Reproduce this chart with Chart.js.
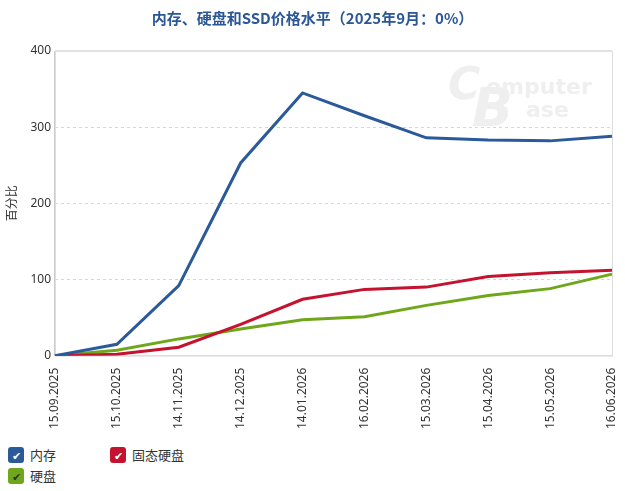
<!DOCTYPE html>
<html>
<head>
<meta charset="utf-8">
<script src="https://cdn.jsdelivr.net/npm/chart.js@4"></script>
<style>
  body { margin: 0; background: #fff; font-family: "Noto Sans CJK SC", "Noto Sans", sans-serif; }
  #wrap { position: relative; width: 625px; height: 436px; }
  #legend { position: relative; height: 55px; }
  .item { position: absolute; display: flex; align-items: center; font-size: 13px; color: #333; }
  .box { width: 16px; height: 16px; border-radius: 3px; margin-right: 6px; color: #fff; font-size: 11px; line-height: 16px; text-align: center; }
</style>
</head>
<body>
<div id="wrap"><canvas id="chart"></canvas></div>
<div id="legend"></div>
<script>
// categories (dates)
const dates = ['15.09.2025', '15.10.2025', '14.11.2025', '14.12.2025', '14.01.2026',
  '16.02.2026', '15.03.2026', '15.04.2026', '15.05.2026', '16.06.2026'];

// series values (price level in %, Sept 2025 = 0)
const ram = [0, 15, 92, 253, 345, 315, 286, 283, 282, 288];
const ssd = [0, 2, 11, 41, 74, 87, 90, 104, 109, 112];
const hdd = [0, 7, 22, 35, 47, 51, 66, 79, 88, 107];

const yTicks = [0, 100, 200, 300, 400];

const names = ['内存', '固态硬盘', '硬盘'];
const colors = ['#2b5a9b', '#c5122f', '#6fa71a'];

// cadre du graphique + filigrane
const frame = {
  id: 'frame',
  beforeDatasetsDraw(chart) {
    const a = chart.chartArea, c = chart.ctx;
    c.save();
    c.fillStyle = '#efefef';
    c.font = 'italic bold 44px "DejaVu Sans"';
    c.fillText('C', a.right - 164, a.top + 48);
    c.font = 'italic bold 54px "DejaVu Sans"';
    c.fillText('B', a.right - 140, a.top + 75);
    c.font = 'bold 22px "DejaVu Sans"';
    c.fillText('omputer', a.right - 126, a.top + 43);
    c.fillText('ase', a.right - 86, a.top + 66);
    c.strokeStyle = '#dddddd';
    c.lineWidth = 1;
    c.strokeRect(a.left + 0.5, a.top + 0.5, a.right - a.left, a.bottom - a.top);
    c.strokeStyle = '#e2e2e2';
    c.lineWidth = 2;
    c.beginPath(); c.moveTo(a.left, a.top); c.lineTo(a.right, a.top); c.stroke();
    c.restore();
  }
};

const ctx = document.getElementById('chart').getContext('2d');
new Chart(ctx, {
  type: 'line',
  data: {
    labels: dates,
    datasets: [ram, ssd, hdd].map((d, i) => ({
      label: names[i],
      data: d,
      borderColor: colors[i],
      backgroundColor: colors[i],
      borderWidth: 3,
      pointRadius: 0,
      tension: 0
    }))
  },
  options: {
    responsive: true,
    maintainAspectRatio: false,
    animation: false,
    layout: { padding: { left: 0, right: 0, top: 5, bottom: 3 } },
    plugins: {
      legend: { display: false },
      tooltip: { enabled: false },
      title: {
        display: true,
        text: '内存、硬盘和SSD价格水平（2025年9月：0%）',
        color: '#2b5797',
        font: { family: '"Noto Sans CJK SC"', size: 15, weight: 'bold' },
        padding: { top: 4, bottom: 24 }
      }
    },
    scales: {
      x: {
        offset: false,
        grid: { display: false },
        border: { color: '#dddddd' },
        afterFit: s => { s.paddingRight = 13; },
        ticks: {
          minRotation: 90, maxRotation: 90, autoSkip: false, padding: 4,
          color: '#333', font: { family: '"Noto Sans"', size: 12 }
        }
      },
      y: {
        min: 0, max: 400,
        afterBuildTicks: axis => { axis.ticks = yTicks.map(v => ({ value: v })); },
        grid: { color: '#d6d6d6', drawTicks: false },
        border: { color: '#cccccc', dash: [3, 3] },
        ticks: { padding: 4, color: '#333', font: { family: '"Noto Sans"', size: 12 } },
        title: {
          display: true, text: '百分比', color: '#333',
          font: { family: '"Noto Sans CJK SC"', size: 12 }, padding: { bottom: 8 }
        }
      }
    }
  },
  plugins: [frame]
});

// légende HTML façon cases à cocher
const legend = document.getElementById('legend');
const pos = [[8, 9], [110, 9], [8, 30]];
names.forEach((n, i) => {
  const it = document.createElement('div');
  it.className = 'item';
  it.style.left = pos[i][0] + 'px';
  it.style.top = pos[i][1] + 'px';
  it.innerHTML = '<div class="box" style="background:' + colors[i] +
    (i === 2 ? ';color:#333' : '') + '">✔</div>' + n;
  legend.appendChild(it);
});
</script>
</body>
</html>
